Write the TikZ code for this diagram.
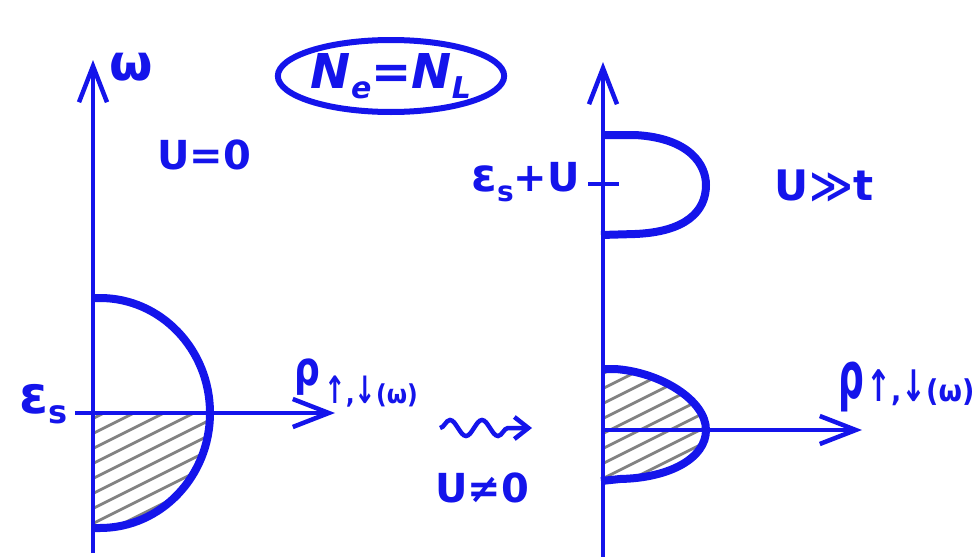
\documentclass[tikz,border=0pt]{standalone}
\usepackage{fontspec}
\setmainfont{DejaVu Sans}
\newfontfamily\condf{DejaVu Sans Condensed}
\usetikzlibrary{arrows.meta,decorations.pathmorphing,shapes.geometric}
\definecolor{pen}{RGB}{20,20,235}
\definecolor{hatchc}{RGB}{130,130,130}
\newcommand{\mysub}[3][-8pt]{\raisebox{#1}{\fontsize{#2}{#2}\selectfont #3}}
\newcommand{\myrho}[1]{\scalebox{0.72}[#1]{\fontsize{50}{50}\selectfont ρ}}
\newcommand{\bigarr}[1]{\scalebox{1.1}[1.45]{#1}}
\begin{document}
\begin{tikzpicture}[x=1pt,y=-1pt,
  axisline/.style={pen,line width=4.5pt,-{Straight Barb[length=36pt,width=28pt,line width=4.5pt]}},
  band/.style={pen,line width=8pt,line join=round},
  hatchline/.style={hatchc,line width=2.8pt},
  lab/.style={text=pen,inner sep=0pt,font=\fontsize{40}{42}\selectfont\bfseries},
  sublab/.style={text=pen,inner sep=0pt,font=\condf\bfseries}]
\useasboundingbox (0,0) rectangle (978,557);
\fill[white] (0,0) rectangle (978,557);
% ---------- left diagram ----------
\begin{scope}
\clip (93,413) -- (210,413) arc[start angle=0,end angle=90,x radius=110,y radius=115] -- (93,528) -- cycle;
\foreach \k in {0,...,20} \draw[hatchline] (60,420+15*\k) -- ++(260,-130);
\end{scope}
\coordinate (lbot) at (93,553);
\coordinate (ltop) at (93,60);
\coordinate (lleft) at (75,413);
\coordinate (lright) at (335,413);
\draw[axisline] (lbot) -- (ltop);
\draw[axisline] (lleft) -- (lright);
\draw[band] (91,298) -- (100,298) arc[start angle=-90,end angle=90,x radius=110,y radius=115] -- (91,528);
\node[lab,font=\fontsize{50}{50}\selectfont\bfseries] (omega) at (131,67) {ω};
\node[lab] (u0) at (204,155) {U=0};
\node[lab,anchor=east,font=\fontsize{52}{52}\selectfont\bfseries] (es) at (68,404) {ε\mysub[-10pt]{32}{s}};
\node[lab,anchor=base west] (rhol) at (294,385) {\myrho{0.95}};
\node[sublab,anchor=base west,font=\condf\bfseries\fontsize{26}{26}\selectfont] (rholsub) at (324,403) {\bigarr{↑},\bigarr{↓}(ω)};
% ---------- ellipse ----------
\node[draw=pen,line width=6pt,ellipse,minimum width=208pt,minimum height=72pt,inner sep=0pt,
  text=pen,font=\fontsize{48}{48}\selectfont\bfseries\itshape] (ne) at (391,76)
  {N\mysub[-10pt]{30}{e}=N\mysub[-10pt]{30}{L}};
% ---------- transition ----------
\coordinate (sqa) at (440,428);
\coordinate (sqb) at (532,428);
\draw[pen,line width=4.5pt,decorate,decoration={snake,segment length=32pt,amplitude=8pt,post length=10pt},
  -{Straight Barb[length=14pt,width=22pt,line width=4.5pt]}] (sqa) -- (sqb);
\node[lab] (uneq) at (482,488) {U≠0};
% ---------- right diagram ----------
\begin{scope}
\clip (603,369) -- (615,369) .. controls (660,372) and (706,400) .. (706,430)
  .. controls (706,458) and (670,478) .. (620,479) -- (603,481) -- cycle;
\foreach \k in {0,...,14} \draw[hatchline] (580,385+15*\k) -- ++(260,-130);
\end{scope}
\coordinate (rbot) at (603,560);
\coordinate (rtop) at (603,62);
\coordinate (rleft) at (603,430);
\coordinate (rright) at (862,430);
\draw[axisline] (rbot) -- (rtop);
\draw[axisline] (rleft) -- (rright);
\draw[band] (601,135) -- (635,135) .. controls (690,138) and (706,165) .. (706,185)
  .. controls (706,212) and (685,232) .. (635,234) -- (601,235);
\draw[band] (601,369) -- (615,369) .. controls (660,372) and (706,400) .. (706,430)
  .. controls (706,458) and (670,478) .. (620,479) -- (601,481);
\coordinate (tka) at (588,184);
\coordinate (tkb) at (619,184);
\draw[pen,line width=4.5pt] (tka) -- (tkb);
\node[lab,anchor=east] (esu) at (580,182) {{\fontsize{46}{46}\selectfont ε}\mysub[-10pt]{28}{s}+U};
\node[lab,font=\fontsize{42}{44}\selectfont\bfseries] (ugt) at (824,186) {U≫t};
\node[lab,anchor=base west] (rhor) at (838,398) {\myrho{1.3}};
\node[sublab,anchor=base west,font=\condf\bfseries\fontsize{30}{30}\selectfont] (rhorsub) at (866,401) {\bigarr{↑},\bigarr{↓}(ω)};
\end{tikzpicture}
\end{document}
